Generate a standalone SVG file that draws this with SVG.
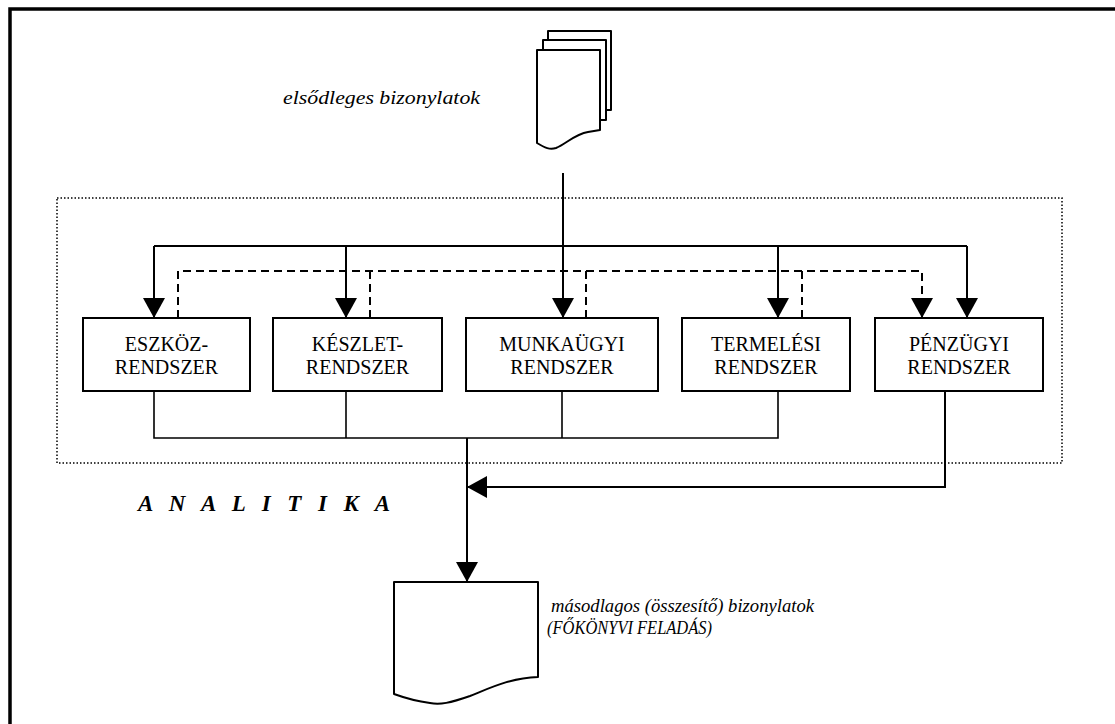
<svg xmlns="http://www.w3.org/2000/svg" width="1115" height="724" viewBox="0 0 1115 724">
<style>
.frame{fill:none;stroke:#000;stroke-width:3.5}
.dot{fill:none;stroke:#000;stroke-width:1.5;stroke-dasharray:1.5 2}
.box{fill:#fff;stroke:#000;stroke-width:2}
.doc{fill:#fff;stroke:#000;stroke-width:2;stroke-linejoin:round}
.ln{fill:none;stroke:#000;stroke-width:2}
.thin{fill:none;stroke:#000;stroke-width:1.6}
.dash{fill:none;stroke:#000;stroke-width:2;stroke-dasharray:8 5}
text{font-family:'Liberation Serif','Times New Roman',serif;fill:#000}
.bt{font-size:20px;text-anchor:middle}
.it{font-size:18px;font-style:italic}
.an{font-size:23px;font-style:italic;font-weight:bold}
</style>
<defs>
<marker id="ah" markerUnits="userSpaceOnUse" markerWidth="20" markerHeight="22" refX="20" refY="11" orient="auto">
<path d="M0,0 L20,11 L0,22 Z" fill="#000"/>
</marker>
</defs>
<rect width="1115" height="724" fill="#fff"/>
<path class="frame" d="M10,724 V9 H1115"/>
<rect class="dot" x="57" y="198" width="1005" height="265"/>

<g id="doc-primary">
<rect class="doc" x="548" y="31" width="63" height="79"/>
<rect class="doc" x="543" y="40" width="63" height="80"/>
<path class="doc" d="M537,50 H600 V130 L588,132 C575,134 566,144 556,148 C550,150 545,148 537,143 Z"/>
<text class="it" x="283" y="104" textLength="197" lengthAdjust="spacingAndGlyphs">elsődleges bizonylatok</text>
</g>

<g id="connectors">
<path class="ln" d="M563,173 V318" marker-end="url(#ah)"/>
<path class="ln" d="M154,246 H967"/>
<path class="ln" d="M154,246 V318" marker-end="url(#ah)"/>
<path class="ln" d="M346,246 V318" marker-end="url(#ah)"/>
<path class="ln" d="M778,246 V318" marker-end="url(#ah)"/>
<path class="ln" d="M967,246 V318" marker-end="url(#ah)"/>
<path class="dash" d="M178,318 V271 H922 V318" marker-end="url(#ah)"/>
<path class="dash" d="M370,318 V271"/>
<path class="dash" d="M586,318 V271"/>
<path class="dash" d="M802,318 V271"/>
<path class="thin" d="M154,391 V438 H778 V391"/>
<path class="thin" d="M346,391 V438"/>
<path class="thin" d="M562,391 V438"/>
<path class="ln" d="M467,438 V582" marker-end="url(#ah)"/>
<path class="ln" d="M945,391 V487 H467" marker-end="url(#ah)"/>
</g>

<g id="eszkoz">
<rect class="box" x="83" y="318" width="167" height="73"/>
<text class="bt" x="166.5" y="351">ESZKÖZ-</text>
<text class="bt" x="166.5" y="374">RENDSZER</text>
</g>
<g id="keszlet">
<rect class="box" x="273" y="318" width="169" height="73"/>
<text class="bt" x="357.5" y="351">KÉSZLET-</text>
<text class="bt" x="357.5" y="374">RENDSZER</text>
</g>
<g id="munkaugyi">
<rect class="box" x="466" y="318" width="192" height="73"/>
<text class="bt" x="562" y="351">MUNKAÜGYI</text>
<text class="bt" x="562" y="374">RENDSZER</text>
</g>
<g id="termelesi">
<rect class="box" x="682" y="318" width="168" height="73"/>
<text class="bt" x="766" y="351">TERMELÉSI</text>
<text class="bt" x="766" y="374">RENDSZER</text>
</g>
<g id="penzugyi">
<rect class="box" x="875" y="318" width="168" height="73"/>
<text class="bt" x="959" y="351">PÉNZÜGYI</text>
<text class="bt" x="959" y="374">RENDSZER</text>
</g>

<g id="analitika">
<text class="an" x="138" y="511" textLength="252" lengthAdjust="spacing">A N A L I T I K A</text>
</g>

<g id="doc-secondary">
<path class="doc" d="M394,582 H538 V677 C510,678 490,688 470,696 C450,703 440,705 430,703 C415,701 405,698 394,694 Z"/>
<text class="it" x="551" y="612" textLength="263" lengthAdjust="spacingAndGlyphs">másodlagos (összesítő) bizonylatok</text>
<text class="it" x="547" y="634" textLength="165" lengthAdjust="spacingAndGlyphs">(FŐKÖNYVI FELADÁS)</text>
</g>
</svg>
